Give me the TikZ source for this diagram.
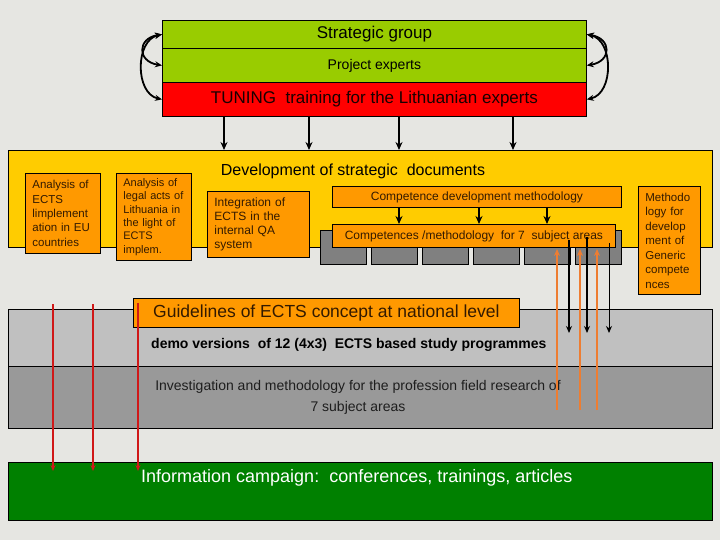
\documentclass[tikz,border=0pt]{standalone}
\usepackage{fontspec}
\setmainfont{Liberation Sans}
\usetikzlibrary{arrows.meta}
\definecolor{bgc}{HTML}{E6E6E2}
\definecolor{sgreen}{HTML}{99CC00}
\definecolor{tred}{HTML}{FF0000}
\definecolor{yel}{HTML}{FFCC00}
\definecolor{org}{HTML}{FF9900}
\definecolor{gblk}{HTML}{808080}
\definecolor{lgray}{HTML}{C0C0C0}
\definecolor{dgray}{HTML}{999999}
\definecolor{dgreen}{HTML}{008000}
\definecolor{rline}{HTML}{D01818}
\definecolor{oline}{HTML}{EE7D31}
\definecolor{btxt}{HTML}{331A00}
\definecolor{gtxt}{HTML}{1E1E1E}
\begin{document}
\begin{tikzpicture}[x=1pt,y=-1pt,
  bx/.style={draw=black, line width=0.8pt, inner sep=0pt, anchor=north west},
  obox/.style={bx, fill=org, text=btxt},
  lbox/.style={obox, align=left, inner xsep=7pt, text width=#1},
  arr/.style={-{Stealth[length=8pt,width=7pt]}, line width=1.8pt},
  darr/.style={{Stealth[length=7pt,width=6pt]}-{Stealth[length=7pt,width=6pt]}, line width=1.8pt},
  redarr/.style={-{Stealth[length=6pt,width=5pt]}, draw=rline},
  orarr/.style={-{Stealth[length=7pt,width=6pt]}, draw=oline, line width=2pt},
  blarr/.style={-{Stealth[length=7pt,width=6pt]}, draw=black}
]
\useasboundingbox (0,0) rectangle (720,540);
\fill[bgc] (0,0) rectangle (720,540);

% yellow strategic documents area
\node[bx, fill=yel, minimum width=704pt, minimum height=97pt] (yb) at (8,150) {};
\node[text=black, font=\fontsize{16}{19}\selectfont] (devt) at (353,171) {Development of strategic\ \ documents};

% gray blocks behind subject areas
\foreach \i/\xx in {1/320,2/371,3/422,4/473,5/524,6/575}
  \node[bx, fill=gblk, minimum width=46pt, minimum height=34pt] (g\i) at (\xx,230) {};

\node[obox, minimum width=289pt, minimum height=21pt, font=\fontsize{12}{14}\selectfont] (cd) at (332,186) {Competence development methodology};
\node[obox, minimum width=283pt, minimum height=23pt, font=\fontsize{12}{14}\selectfont] (c7) at (332,224) {Competences /methodology\ \ for 7\ \ subject areas};

% left boxes
\node[lbox=61pt, minimum width=75pt, minimum height=80pt, font=\fontsize{11.5}{14.3}\selectfont] (a1) at (25,173) {Analysis of\\ECTS\\limplement\\ation in EU\\countries};
\node[lbox=61pt, minimum width=75pt, minimum height=87pt, font=\fontsize{11}{13.4}\selectfont] (a2) at (116,173) {Analysis of\\legal acts of\\Lithuania in\\the light of\\ECTS\\implem.};
\node[lbox=88pt, minimum width=102pt, minimum height=66pt, font=\fontsize{12}{14.3}\selectfont] (a3) at (207,191) {Integration of\\ECTS in the\\internal QA\\system};
\node[lbox=48pt, minimum width=62pt, minimum height=108pt, font=\fontsize{11.5}{14.5}\selectfont] (mg) at (638,186) {Methodo\\logy for\\develop\\ment of\\Generic\\compete\\nces};

% top group
\node[bx, fill=sgreen, minimum width=424pt, minimum height=28pt, font=\fontsize{17}{20}\selectfont] (sg) at (162,20) {Strategic group};
\node[bx, fill=sgreen, minimum width=424pt, minimum height=34pt, font=\fontsize{14}{17}\selectfont] (pe) at (162,48) {Project experts};
\node[bx, fill=tred, text=black!90!red, minimum width=424pt, minimum height=34pt, font=\fontsize{17}{20}\selectfont] (tu) at (162,82) {TUNING\ \ training for the Lithuanian experts};

% bands
\node[bx, fill=lgray, minimum width=704pt, minimum height=57pt] (lb) at (8,309) {};
\node[bx, fill=dgray, minimum width=704pt, minimum height=62pt] (db) at (8,366) {};
\node[bx, fill=dgreen, minimum width=704pt, minimum height=58pt] (gb) at (8,462) {};
\node[obox, minimum width=386pt, minimum height=29pt, font=\fontsize{17.5}{20}\selectfont] (gl) at (133,298) {Guidelines of ECTS concept at national level};

\node[anchor=west, inner sep=0pt, font=\bfseries\fontsize{14}{16}\selectfont] (demo) at (151,345) {demo versions\ \ of 12 (4x3)\ \ ECTS based study programmes};
\node[align=center, inner sep=0pt, text=gtxt, font=\fontsize{14}{21}\selectfont] (inv) at (358,397) {Investigation and methodology for the profession field research of\\7 subject areas};
\node[anchor=west, inner sep=0pt, text=white, font=\fontsize{18}{21}\selectfont] (info) at (141,478) {Information campaign:\ \ conferences, trainings, articles};

% curved arrows
\draw[darr] (sg.west) .. controls +(-25,4) and +(-25,-4) .. (pe.west);
\draw[darr] (sg.west) .. controls +(-27,6) and +(-27,-6) .. (tu.west);
\draw[darr] (sg.east) .. controls +(25,4) and +(25,-4) .. (pe.east);
\draw[darr] (sg.east) .. controls +(27,6) and +(27,-6) .. (tu.east);

% down arrows
\foreach \xx in {224,309,399,513}
  \draw[arr] (\xx,0 |- tu.south) -- (\xx,0 |- yb.north);
\foreach \xx in {399,479,547}
  \draw[arr] (\xx,0 |- cd.south) -- (\xx,0 |- c7.north);

% black arrows from subject areas
\coordinate (k1s) at (569,240); \coordinate (k1e) at (569,333);
\coordinate (k2s) at (587,237); \coordinate (k2e) at (587,333);
\coordinate (k3s) at (609,243); \coordinate (k3e) at (609,333);
\draw[blarr, line width=1.8pt] (k1s) -- (k1e);
\draw[blarr, line width=1.8pt] (k2s) -- (k2e);
\draw[blarr, line width=1pt] (k3s) -- (k3e);

% orange arrows upward
\coordinate (o1s) at (557,410); \coordinate (o1e) at (557,249);
\coordinate (o2s) at (580,410); \coordinate (o2e) at (580,249);
\coordinate (o3s) at (597,410); \coordinate (o3e) at (597,249);
\draw[orarr] (o1s) -- (o1e);
\draw[orarr] (o2s) -- (o2e);
\draw[orarr] (o3s) -- (o3e);

% red arrows
\coordinate (r1s) at (53,304); \coordinate (r1e) at (53,471);
\coordinate (r2s) at (93,304); \coordinate (r2e) at (93,471);
\coordinate (r3s) at (138,303); \coordinate (r3e) at (138,471);
\draw[redarr, line width=1.6pt] (r1s) -- (r1e);
\draw[redarr, line width=2.6pt] (r2s) -- (r2e);
\draw[redarr, line width=1.6pt] (r3s) -- (r3e);
\end{tikzpicture}
\end{document}
